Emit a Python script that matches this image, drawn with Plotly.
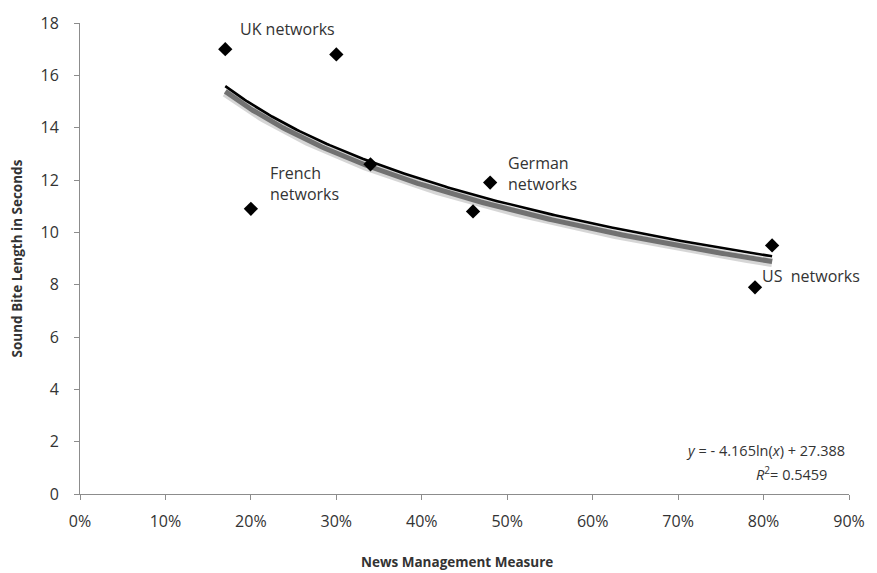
import numpy as np
import plotly.graph_objects as go

# News management measure (%) vs. average sound bite length (s)
news_mgmt = [17, 30, 34, 20, 48, 46, 81, 79]
sound_bite = [17.0, 16.8, 12.6, 10.9, 11.9, 10.8, 9.5, 7.9]

# Logarithmic trend: y = a*ln(x) + b
coef_a = -4.165
coef_b = 27.388
r_squared = 0.5459

# Group labels and the points they sit next to
group_labels = ["UK networks", "French<br>networks", "German<br>networks", "US  networks"]
label_x = [18.5, 22.0, 49.8, 79.6]
label_y = [17.78, 11.85, 12.25, 8.35]

x_ticks = list(range(0, 91, 10))
y_ticks = list(range(0, 19, 2))

font_family = "Open Sans, Liberation Sans, sans-serif"
text_color = "#333333"

trend_x = np.linspace(min(news_mgmt), max(news_mgmt), 200)
trend_y = coef_a * np.log(trend_x) + coef_b

fig = go.Figure()

# soft shadow under the trend line
fig.add_trace(go.Scatter(x=trend_x, y=trend_y - 0.24, mode="lines",
                         line=dict(color="rgba(120,120,120,0.3)", width=9),
                         hoverinfo="skip", showlegend=False))
fig.add_trace(go.Scatter(x=trend_x, y=trend_y - 0.2, mode="lines",
                         line=dict(color="rgba(95,95,95,0.85)", width=5),
                         hoverinfo="skip", showlegend=False))
fig.add_trace(go.Scatter(x=trend_x, y=trend_y, mode="lines",
                         line=dict(color="black", width=2.6),
                         hoverinfo="skip", showlegend=False))

fig.add_trace(go.Scatter(x=news_mgmt, y=sound_bite, mode="markers",
                         marker=dict(symbol="diamond", size=11, color="black"),
                         showlegend=False))

annotations = []
for txt, lx, ly in zip(group_labels, label_x, label_y):
    annotations.append(dict(x=lx, y=ly, xref="x", yref="y", text=txt,
                            showarrow=False, xanchor="left", yanchor="middle",
                            align="left",
                            font=dict(family=font_family, size=16, color=text_color)))

annotations.append(dict(x=0.997, y=0.092, xref="paper", yref="paper",
                        text=f"<i>y</i> = - {abs(coef_a):.3f}ln(<i>x</i>) + {coef_b:.3f}",
                        showarrow=False, xanchor="right", yanchor="middle",
                        font=dict(family=font_family, size=14.5, color=text_color)))
annotations.append(dict(x=0.925, y=0.043, xref="paper", yref="paper",
                        text=f"<i>R</i><sup>2</sup>= {r_squared:.4f}",
                        showarrow=False, xanchor="center", yanchor="middle",
                        font=dict(family=font_family, size=14.5, color=text_color)))

# axis titles
annotations.append(dict(x=0.49, y=-0.145, xref="paper", yref="paper",
                        text="<b>News Management Measure</b>", showarrow=False,
                        xanchor="center", yanchor="middle",
                        font=dict(family=font_family, size=13.5, color=text_color)))
annotations.append(dict(x=-0.082, y=0.5, xref="paper", yref="paper",
                        text="<b>Sound Bite Length in Seconds</b>", showarrow=False,
                        textangle=-90, xanchor="center", yanchor="middle",
                        font=dict(family=font_family, size=13.5, color=text_color)))

axis_common = dict(showgrid=False, zeroline=False, showline=True,
                   linecolor="#8c8c8c", linewidth=1, ticks="outside",
                   tickcolor="#8c8c8c", ticklen=5,
                   tickfont=dict(family=font_family, size=16, color=text_color))

fig.update_layout(
    width=877, height=573,
    margin=dict(l=80, r=25, t=15, b=79),
    plot_bgcolor="white", paper_bgcolor="white",
    xaxis=dict(range=[0, 90], tickvals=x_ticks, ticklabelstandoff=8,
               ticktext=[f"{v}%" for v in x_ticks], **axis_common),
    yaxis=dict(range=[0, 18], tickvals=y_ticks, ticklabelstandoff=12,
               **axis_common),
    annotations=annotations,
)

fig.write_html("out.html")
